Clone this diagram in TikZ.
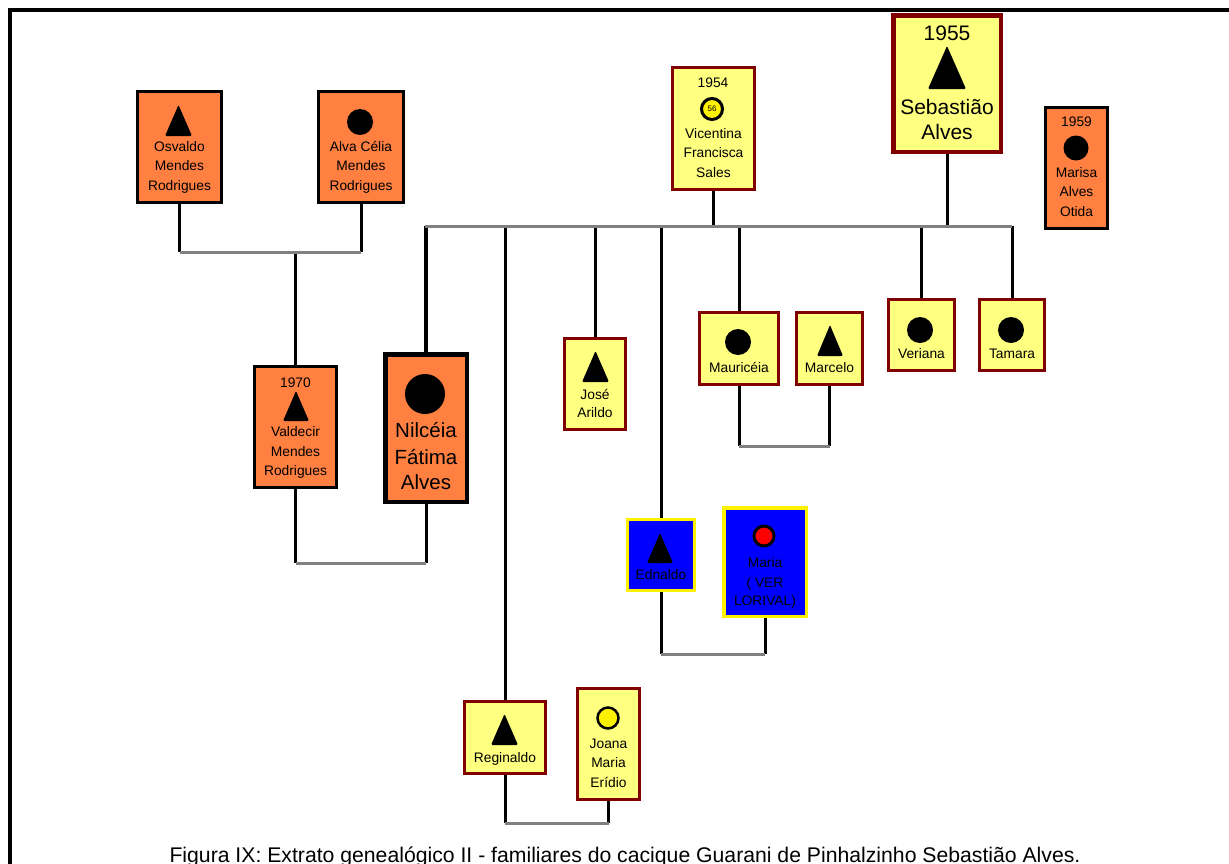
\documentclass[tikz,border=0pt]{standalone}
\usepackage{fontspec}
\setmainfont{Liberation Sans}
\definecolor{orgC}{HTML}{FF8040}
\definecolor{yelC}{HTML}{FFFF80}
\definecolor{redC}{HTML}{800000}
\definecolor{bluC}{HTML}{0000FF}
\definecolor{grayC}{HTML}{808080}
\newcommand\mytri[4]{\fill[rounded corners=1.3pt] (#1,#4) -- ({(#1+#2)/2},#3) -- (#2,#4) -- cycle;}
\tikzset{
  pbox/.style={rectangle, inner sep=0pt, line width=3pt},
  obox/.style={pbox, draw=black, fill=orgC},
  ybox/.style={pbox, draw=redC, fill=yelC},
  bbox/.style={pbox, draw=yellow, fill=bluC},
  sm/.style={font=\fontsize{13.8}{15}\selectfont, inner sep=0pt, anchor=mid, yshift=-2.5pt},
  bg/.style={font=\fontsize{21}{24}\selectfont, inner sep=0pt, anchor=mid, yshift=-4.5pt},
  kinline/.style={line width=3pt, black},
  marline/.style={line width=3pt, grayC},
}
\begin{document}
\begin{tikzpicture}[x=1pt,y=-1pt]
\useasboundingbox (0,0) rectangle (1229,863);
\fill[white] (0,0) rectangle (1229,863);
% frame
\draw[line width=4pt, line join=miter] (10,870) -- (10,10) -- (1235,10);

% boxes
\node[obox, minimum width=84pt, minimum height=111pt] (osv) at (179.5,147) {};
\node[obox, minimum width=85pt, minimum height=111pt] (alva) at (361,147) {};
\node[obox, minimum width=82pt, minimum height=121pt] (val) at (295.5,427) {};
\node[obox, line width=4.5pt, minimum width=81.5pt, minimum height=147.5pt] (nil) at (426,428) {};
\node[ybox, minimum width=82pt, minimum height=122pt] (vic) at (713.5,128.5) {};
\node[ybox, line width=4.5pt, minimum width=107.5pt, minimum height=136.5pt] (seb) at (947,83.5) {};
\node[obox, minimum width=62pt, minimum height=121pt] (mari) at (1076.5,168) {};
\node[ybox, minimum width=61pt, minimum height=91pt] (jose) at (595,384) {};
\node[ybox, minimum width=79pt, minimum height=72pt] (maur) at (739,348.5) {};
\node[ybox, minimum width=66pt, minimum height=72pt] (marc) at (829.5,348.5) {};
\node[ybox, minimum width=66pt, minimum height=71pt] (ver) at (921.5,335) {};
\node[ybox, minimum width=65pt, minimum height=71pt] (tam) at (1012,335) {};
\node[bbox, line width=3.5pt, minimum width=67pt, minimum height=71pt] (edn) at (661,555) {};
\node[bbox, line width=3.5pt, minimum width=82.5pt, minimum height=108.5pt] (mria) at (765,562) {};
\node[ybox, minimum width=81pt, minimum height=72pt] (reg) at (505,737.5) {};
\node[ybox, minimum width=62pt, minimum height=111pt] (joa) at (608.5,744) {};

% junction coordinates
\coordinate (bar) at (0,226);
\coordinate (jA) at (0,252);
\coordinate (jB) at (0,563);
\coordinate (jC) at (0,446);
\coordinate (jD) at (0,654);
\coordinate (jE) at (0,823);

% vertical kin lines
\draw[kinline] (osv.south) -- (osv.south |- jA);
\draw[kinline] (alva.south) -- (alva.south |- jA);
\draw[kinline] (val.north) -- (val.north |- jA);
\draw[kinline] (val.south) -- (val.south |- jB);
\draw[kinline] (nil.south) -- (nil.south |- jB);
\draw[kinline, line width=4pt] (nil.north) -- (nil.north |- bar);
\draw[kinline] (vic.south) -- (vic.south |- bar);
\draw[kinline] (seb.south) -- (seb.south |- bar);
\draw[kinline] (reg.north) -- (reg.north |- bar);
\draw[kinline] (jose.north) -- (jose.north |- bar);
\draw[kinline] (edn.north) -- (edn.north |- bar);
\draw[kinline] (maur.north) -- (maur.north |- bar);
\draw[kinline] (ver.north) -- (ver.north |- bar);
\draw[kinline] (tam.north) -- (tam.north |- bar);
\draw[kinline] (maur.south) -- (maur.south |- jC);
\draw[kinline] (marc.south) -- (marc.south |- jC);
\draw[kinline] (edn.south) -- (edn.south |- jD);
\draw[kinline] (mria.south) -- (mria.south |- jD);
\draw[kinline] (reg.south) -- (reg.south |- jE);
\draw[kinline] (joa.south) -- (joa.south |- jE);

% marriage / sibling bars
\draw[marline] (osv.south |- jA) -- (alva.south |- jA);
\draw[marline] (val.south |- jB) -- (nil.south |- jB);
\draw[marline] ([xshift=-1.5pt]nil.north |- bar) -- (tam.north |- bar);
\draw[marline] (maur.south |- jC) -- (marc.south |- jC);
\draw[marline] (edn.south |- jD) -- (mria.south |- jD);
\draw[marline] (reg.south |- jE) -- (joa.south |- jE);

% Osvaldo
\mytri{165}{192}{105}{136}
\node[sm] (osv1) at (179.5,146) {Osvaldo};
\node[sm] (osv2) at (179.5,165) {Mendes};
\node[sm] (osv3) at (179.5,185) {Rodrigues};
% Alva
\fill (360,122) circle (13pt);
\node[sm] (alv1) at (361,146) {Alva Célia};
\node[sm] (alv2) at (361,165) {Mendes};
\node[sm] (alv3) at (361,185) {Rodrigues};
% Valdecir
\node[sm] (val0) at (295.5,382) {1970};
\mytri{283}{309}{391}{421}
\node[sm] (val1) at (295.5,431) {Valdecir};
\node[sm] (val2) at (295.5,451) {Mendes};
\node[sm] (val3) at (295.5,470) {Rodrigues};
% Nilceia
\fill (425,394) circle (20pt);
\node[bg, font=\fontsize{20.5}{24}\selectfont] (nil1) at (426,430) {Nilcéia};
\node[bg, font=\fontsize{20.5}{24}\selectfont] (nil2) at (426,457) {Fátima};
\node[bg, font=\fontsize{20.5}{24}\selectfont] (nil3) at (426,482) {Alves};
% Vicentina
\node[sm] (vic0) at (713,82) {1954};
\filldraw[fill=yellow, draw=black, line width=3pt] (712,109) circle (10.5pt);
\node[inner sep=0pt, font=\fontsize{8}{8}\selectfont] (vic56) at (712,109) {56};
\node[sm] (vic1) at (713.5,133) {Vicentina};
\node[sm] (vic2) at (713.5,152) {Francisca};
\node[sm] (vic3) at (713.5,172) {Sales};
% Sebastiao
\node[bg] (seb0) at (947,33) {1955};
\mytri{928}{966}{46}{89}
\node[bg] (seb1) at (947,107) {Sebastião};
\node[bg] (seb2) at (947,132) {Alves};
% Marisa
\node[sm] (mar0) at (1076.5,121) {1959};
\fill (1076,148) circle (12.5pt);
\node[sm] (mar1) at (1076.5,172) {Marisa};
\node[sm] (mar2) at (1076.5,191) {Alves};
\node[sm] (mar3) at (1076.5,211) {Otida};
% Jose
\mytri{582}{609}{351}{382}
\node[sm] (jos1) at (595,394) {José};
\node[sm] (jos2) at (595,412) {Arildo};
% Mauriceia
\fill (738,342) circle (13pt);
\node[sm] (mau1) at (739,367) {Mauricéia};
% Marcelo
\mytri{817}{843}{325}{356}
\node[sm] (mrc1) at (829.5,367) {Marcelo};
% Veriana
\fill (920,330) circle (13pt);
\node[sm] (ver1) at (921.5,353) {Veriana};
% Tamara
\fill (1011,330) circle (13pt);
\node[sm] (tam1) at (1012,353) {Tamara};
% Ednaldo
\mytri{647}{673}{533}{563}
\node[sm] (edn1) at (661,574) {Ednaldo};
% Maria
\filldraw[fill=red, draw=black, line width=3pt] (764,536) circle (10pt);
\node[sm] (mri1) at (765,562) {Maria};
\node[sm] (mri2) at (765,582) {( VER};
\node[sm] (mri3) at (765,600) {LORIVAL)};
% Reginaldo
\mytri{491}{518}{714}{745}
\node[sm] (reg1) at (505,757) {Reginaldo};
% Joana
\filldraw[fill=yellow, draw=black, line width=2.5pt] (608,718) circle (10.5pt);
\node[sm] (joa1) at (608.5,743) {Joana};
\node[sm] (joa2) at (608.5,762) {Maria};
\node[sm] (joa3) at (608.5,782) {Erídio};

% caption
\node[inner sep=0pt, anchor=base, font=\fontsize{21.2}{24}\selectfont] (cap) at (625,862) {Figura IX: Extrato genealógico II - familiares do cacique Guarani de Pinhalzinho Sebastião Alves.};
\end{tikzpicture}
\end{document}
